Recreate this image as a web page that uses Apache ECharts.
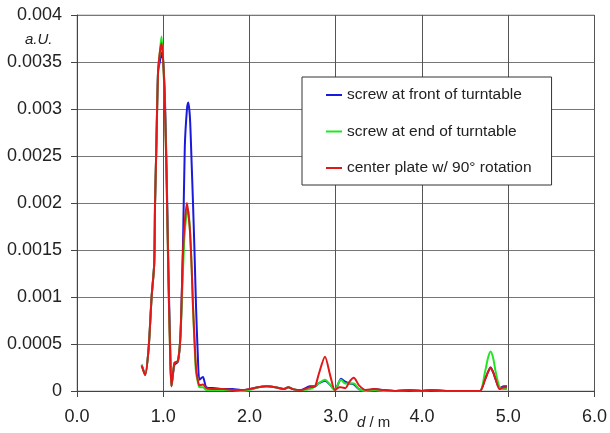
<!DOCTYPE html>
<html>
<head>
<meta charset="utf-8">
<script src="https://cdn.jsdelivr.net/npm/echarts@6/dist/echarts.min.js"></script>
<style>
html,body{margin:0;padding:0;background:#fff;}
#chart{width:610px;height:433px;}
</style>
</head>
<body>
<div id="chart"></div>
<script>
// distance d / m
var distances = [0.75,0.79,0.83,0.865,0.895,0.905,0.92,0.94,0.96,0.98,1.00,1.02,1.04,1.06,1.08,1.095,1.13,1.17,1.20,1.23,1.25,1.275,1.29,1.31,1.33,1.345,1.365,1.38,1.40,1.42,1.46,1.50,1.6,1.7,1.8,1.9,2.0,2.1,2.2,2.3,2.4,2.45,2.5,2.6,2.7,2.76,2.8,2.875,2.94,2.99,3.04,3.06,3.11,3.16,3.21,3.27,3.35,3.45,3.55,3.7,3.85,4.0,4.1,4.3,4.5,4.67,4.73,4.765,4.795,4.825,4.855,4.9,4.95,4.985];
var screwFront = [0.00028,0.00017,0.00045,0.001,0.00135,0.002,0.0026,0.0034,0.0035,0.0036,0.0035,0.0031,0.0023,0.0013,0.0005,0.00005,0.00028,0.00031,0.0006,0.0016,0.0026,0.003,0.00307,0.0029,0.0024,0.002,0.0014,0.0009,0.0004,0.00012,0.00015,0.00004,0.00003,0.00002,0.00002,0.00001,0.00002,0.00004,0.00005,0.00004,0.00002,0.00004,0.00002,0.00001,0.00005,0.00005,0.00008,0.00011,0.00006,0.00001,0.0001,0.00013,0.0001,0.00008,0.00007,0.00002,0,0.00002,0.00001,0,0.00001,0,0.00001,0,0,0,0.00012,0.0002,0.00025,0.0002,0.00012,0.00003,0.00005,0.00005];
var screwEnd = [0.00028,0.00017,0.00045,0.001,0.00135,0.002,0.0026,0.0034,0.0036,0.00377,0.0035,0.003,0.0022,0.0012,0.0004,0.00005,0.0003,0.00032,0.0006,0.0013,0.0017,0.0019,0.00193,0.0017,0.0013,0.0009,0.00045,0.0002,0.0001,0.00004,0.00004,0.00001,0.00001,0.00001,0.00001,0,0.00001,0.00004,0.00005,0.00004,0.00002,0.00004,0.00002,0.00001,0.00002,0.00005,0.00008,0.00012,0.00006,0.00001,0.0001,0.00012,0.00008,0.00008,0.00008,0.00002,0,0.00001,0,0,0.00001,0,0.00001,0,0,0,0.0002,0.00035,0.00042,0.00035,0.0002,0.00004,0.00002,0.00002];
var centerPlate = [0.00027,0.00017,0.00045,0.001,0.00135,0.002,0.0026,0.0034,0.0036,0.0037,0.0035,0.003,0.0022,0.0012,0.0004,0.00005,0.0003,0.00032,0.0006,0.0015,0.0018,0.002,0.0019,0.0017,0.0013,0.0009,0.0005,0.00025,0.00012,0.00006,0.00007,0.00003,0.00002,0.00002,0.00001,0.00001,0.00002,0.00004,0.00005,0.00004,0.00002,0.00004,0.00002,0.00001,0.00004,0.00005,0.00017,0.000365,0.00015,0.00001,0.00004,0.00004,0.00003,0.0001,0.00014,0.00006,0.00001,0.00002,0.00001,0,0.00001,0,0.00001,0,0,0,0.00012,0.0002,0.00025,0.0002,0.00012,0.00002,0.00004,0.00004];
var seriesNames = ['screw at front of turntable','screw at end of turntable','center plate w/ 90° rotation'];
var xTicks = ['0.0','1.0','2.0','3.0','4.0','5.0','6.0'];
var yTicks = ['0','0.0005','0.001','0.0015','0.002','0.0025','0.003','0.0035','0.004'];

function pairs(vals){ return distances.map(function(d,i){ return [d, vals[i]]; }); }

var chart = echarts.init(document.getElementById('chart'), null, {renderer:'canvas'});
var font = 'Liberation Sans, Arial, sans-serif';
var colors = ['#1a1adc','#22e622','#e01818'];
var data = [screwFront, screwEnd, centerPlate];

chart.setOption({
  animation:false,
  backgroundColor:'#fff',
  grid:{left:77,right:13,top:15,bottom:42,show:true,borderColor:'#b0b0b0',borderWidth:1},
  xAxis:{type:'value',min:0,max:6,interval:1,
    axisLine:{show:true,lineStyle:{color:'#444',width:1}},
    axisTick:{show:true,length:6,lineStyle:{color:'#444'}},
    splitLine:{show:true,lineStyle:{color:'#555',width:1}},
    axisLabel:{color:'#222',fontSize:18,fontFamily:font,margin:17,
      formatter:function(v){ return xTicks[Math.round(v)]; }}
  },
  yAxis:{type:'value',min:0,max:0.004,interval:0.0005,
    axisLine:{show:true,lineStyle:{color:'#444',width:1}},
    axisTick:{show:true,length:6,lineStyle:{color:'#444'}},
    splitLine:{show:true,lineStyle:{color:'#777',width:1}},
    axisLabel:{color:'#222',fontSize:18,fontFamily:font,margin:15,
      formatter:function(v){ return yTicks[Math.round(v/0.0005)]; }}
  },
  legend:{show:true,orient:'vertical',left:302,top:77,
    padding:[10,20,9,23],itemGap:20.5,itemWidth:16,itemHeight:14,
    borderColor:'#333',borderWidth:1,backgroundColor:'#fff',
    itemStyle:{opacity:0,borderWidth:0},
    lineStyle:{width:2},
    textStyle:{color:'#222',fontSize:15.5,fontFamily:font},
    data:seriesNames},
  series: seriesNames.map(function(n,i){
    return {name:n,type:'line',data:pairs(data[i]),symbol:'none',smooth:0.25,
      lineStyle:{color:colors[i],width:2},itemStyle:{color:colors[i]},z:2+i};
  }),
  graphic:[
    {type:'text',left:25,top:32,style:{text:'a.U.',font:'italic 15px '+font,fill:'#222'}},
    {type:'text',left:357,top:415,style:{text:'{d|d} / m',font:'15px '+font,fill:'#222',
      rich:{d:{font:'italic 15px '+font,fill:'#222'}}}}
  ]
});
</script>
</body>
</html>
